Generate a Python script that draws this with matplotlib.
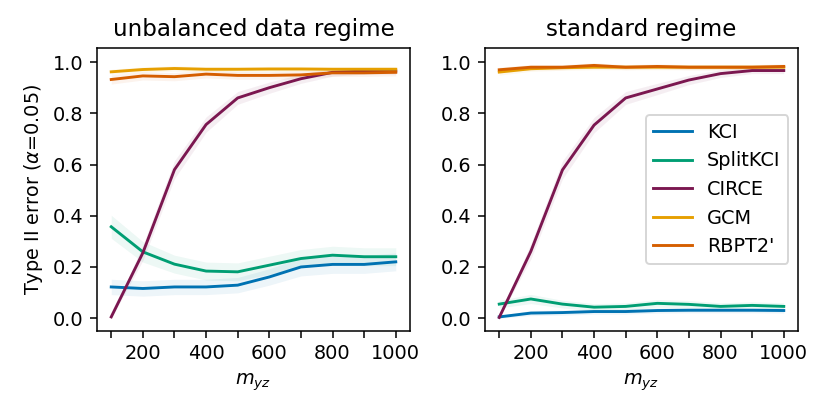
import numpy as np
import matplotlib
matplotlib.use('Agg')
import matplotlib.pyplot as plt

# sample sizes
m_yz = [100, 200, 300, 400, 500, 600, 700, 800, 900, 1000]

methods = ['KCI', 'SplitKCI', 'CIRCE', 'GCM', "RBPT2'"]
colors = ['#0072b2', '#009e73', '#7b1750', '#e69f00', '#d55e00']

# unbalanced data regime (mean Type II error)
unbal_kci = [0.122, 0.116, 0.122, 0.122, 0.129, 0.161, 0.200, 0.210, 0.210, 0.220]
unbal_split = [0.357, 0.259, 0.211, 0.184, 0.181, 0.207, 0.233, 0.246, 0.240, 0.240]
unbal_circe = [0.005, 0.255, 0.580, 0.756, 0.860, 0.900, 0.935, 0.960, 0.965, 0.965]
unbal_gcm = [0.962, 0.971, 0.975, 0.972, 0.972, 0.973, 0.973, 0.972, 0.972, 0.972]
unbal_rbpt = [0.932, 0.946, 0.943, 0.953, 0.948, 0.948, 0.950, 0.958, 0.958, 0.960]

# standard regime
std_kci = [0.005, 0.020, 0.022, 0.026, 0.026, 0.030, 0.031, 0.031, 0.031, 0.030]
std_split = [0.055, 0.075, 0.055, 0.043, 0.046, 0.058, 0.054, 0.046, 0.050, 0.046]
std_circe = [0.003, 0.261, 0.579, 0.754, 0.860, 0.895, 0.930, 0.955, 0.967, 0.967]
std_gcm = [0.961, 0.974, 0.978, 0.980, 0.980, 0.980, 0.980, 0.980, 0.980, 0.980]
std_rbpt = [0.970, 0.980, 0.980, 0.987, 0.980, 0.983, 0.980, 0.980, 0.980, 0.983]

# half-width of the shaded bands
unbal_err = [
    [0.030, 0.030, 0.030, 0.030, 0.030, 0.032, 0.035, 0.035, 0.035, 0.035],
    [0.045, 0.040, 0.035, 0.035, 0.035, 0.035, 0.035, 0.035, 0.035, 0.035],
    [0.005, 0.030, 0.035, 0.030, 0.025, 0.022, 0.018, 0.015, 0.012, 0.012],
    [0.010, 0.010, 0.010, 0.010, 0.010, 0.010, 0.010, 0.010, 0.010, 0.010],
    [0.018, 0.016, 0.016, 0.015, 0.015, 0.015, 0.015, 0.014, 0.014, 0.014],
]
std_err = [
    [0.005, 0.010, 0.010, 0.010, 0.010, 0.010, 0.010, 0.010, 0.010, 0.010],
    [0.015, 0.018, 0.015, 0.014, 0.014, 0.015, 0.015, 0.014, 0.014, 0.014],
    [0.003, 0.030, 0.035, 0.030, 0.025, 0.022, 0.018, 0.015, 0.012, 0.012],
    [0.012, 0.010, 0.010, 0.010, 0.010, 0.010, 0.010, 0.010, 0.010, 0.010],
    [0.010, 0.010, 0.010, 0.010, 0.010, 0.010, 0.010, 0.010, 0.010, 0.010],
]

panels = [
    ('unbalanced data regime', [unbal_kci, unbal_split, unbal_circe, unbal_gcm, unbal_rbpt], unbal_err),
    ('standard regime', [std_kci, std_split, std_circe, std_gcm, std_rbpt], std_err),
]

DPI = 830 / 6

fig, axes = plt.subplots(1, 2, figsize=(6, 3), dpi=DPI)
fig.subplots_adjust(left=97/830, right=798/830, bottom=1 - 331/415, top=1 - 48/415, wspace=75/313)

x = np.array(m_yz)
for ax, (title, series, errs) in zip(axes, panels):
    for name, col, y, e in zip(methods, colors, series, errs):
        y = np.array(y)
        e = np.array(e)
        ax.fill_between(x, y - e, y + e, color=col, alpha=0.07, linewidth=0)
        ax.plot(x, y, color=col, lw=1.5, label=name)
    ax.set_title(title, fontsize=12)
    ax.set_xticks(m_yz)
    ax.set_xticklabels([str(v) if v % 200 == 0 else '' for v in m_yz])
    ax.set_yticks([0.0, 0.2, 0.4, 0.6, 0.8, 1.0])
    ax.set_ylim(-0.05, 1.055)
    ax.set_xlabel(r'$m_{yz}$')

axes[0].set_ylabel(r'Type II error ($\alpha$=0.05)')
axes[1].legend(loc='center right')

fig.savefig('out.png', dpi=DPI)
